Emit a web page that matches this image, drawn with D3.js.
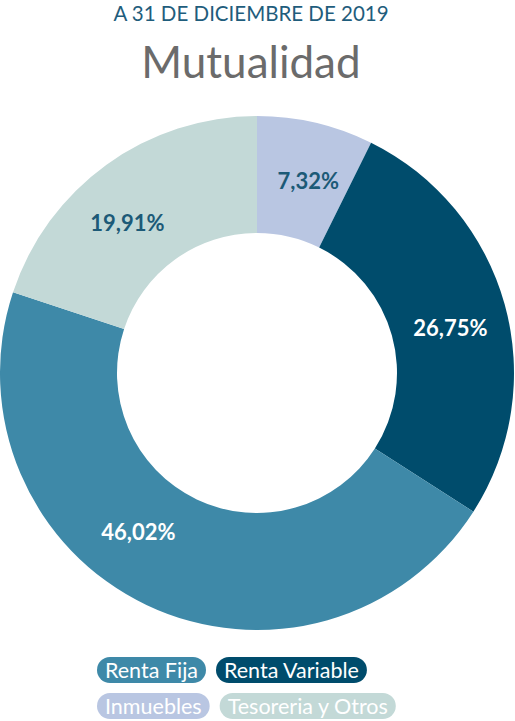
<!DOCTYPE html>
<html>
<head>
<meta charset="utf-8">
<script src="https://cdn.jsdelivr.net/npm/d3@7"></script>
<style>
  body { margin: 0; background: #fff; }
  svg { display: block; font-family: Lato, "Open Sans", sans-serif; }
</style>
</head>
<body>
<script>
// chart data
var categories = ["Inmuebles", "Renta Variable", "Renta Fija", "Tesoreria y Otros"];
var values = [7.32, 26.75, 46.02, 19.91];
var valueLabels = ["7,32%", "26,75%", "46,02%", "19,91%"];
var legendRows = [["Renta Fija", "Renta Variable"], ["Inmuebles", "Tesoreria y Otros"]];

var w = 515, h = 721;
var cx = 257, cy = 373;
var outerR = 257, innerR = 140;
// label placement tweaks (degrees along the ring), like the original's best-fit labels
var labelNudge = [1.8, 2.4, 11.2, -4.9];

var colors = d3.scaleOrdinal()
    .domain(categories)
    .range(["#b9c6e2", "#004c6c", "#3e89a8", "#c3d9d7"]);
var labelColors = d3.scaleOrdinal()
    .domain(categories)
    .range(["#1c5a77", "#ffffff", "#ffffff", "#1c5a77"]);

var svg = d3.select("body").append("svg")
    .attr("width", w)
    .attr("height", h);

// titles
svg.append("text")
    .attr("x", 251).attr("y", 21)
    .attr("text-anchor", "middle")
    .attr("font-size", "20.5px")
    .attr("fill", "#1f5d7c")
    .text("A 31 DE DICIEMBRE DE 2019");

svg.append("text")
    .attr("x", 251).attr("y", 78)
    .attr("text-anchor", "middle")
    .attr("font-size", "44px")
    .attr("fill", "#6b6b6b")
    .text("Mutualidad");

// donut
var pie = d3.pie().sort(null).value(function (d) { return d; });
var arc = d3.arc().innerRadius(innerR).outerRadius(outerR);
var arcs = pie(values);

var g = svg.append("g").attr("transform", "translate(" + cx + "," + cy + ")");
g.selectAll("path")
    .data(arcs)
    .enter().append("path")
    .attr("d", arc)
    .attr("fill", function (d, i) { return colors(categories[i]); });

g.selectAll(".lbl")
    .data(arcs)
    .enter().append("text")
    .attr("class", "lbl")
    .attr("transform", function (d, i) {
        var a = (d.startAngle + d.endAngle) / 2 + labelNudge[i] * Math.PI / 180;
        var rr = (innerR + outerR) / 2;
        return "translate(" + (rr * Math.sin(a)) + "," + (-rr * Math.cos(a)) + ")";
    })
    .attr("text-anchor", "middle")
    .attr("dy", "0.36em")
    .attr("font-size", "22px")
    .attr("font-weight", "bold")
    .attr("fill", function (d, i) { return labelColors(categories[i]); })
    .text(function (d, i) { return valueLabels[i]; });

// legend pills
var legend = svg.append("g").attr("id", "legend");
var pillH = 26, padX = 8, gap = 10;
legendRows.forEach(function (row, r) {
    var x = 97;
    var y = 657 + r * 36;
    row.forEach(function (name) {
        var item = legend.append("g");
        var rect = item.append("rect")
            .attr("x", x).attr("y", y)
            .attr("height", pillH)
            .attr("rx", pillH / 2).attr("ry", pillH / 2)
            .attr("fill", colors(name));
        var t = item.append("text")
            .attr("x", x + padX).attr("y", y + pillH / 2)
            .attr("dy", "0.36em")
            .attr("font-size", "21.5px")
            .attr("fill", "#ffffff")
            .text(name);
        var tw = t.node().getComputedTextLength();
        rect.attr("width", tw + padX * 2);
        x += tw + padX * 2 + gap;
    });
});
</script>
</body>
</html>
